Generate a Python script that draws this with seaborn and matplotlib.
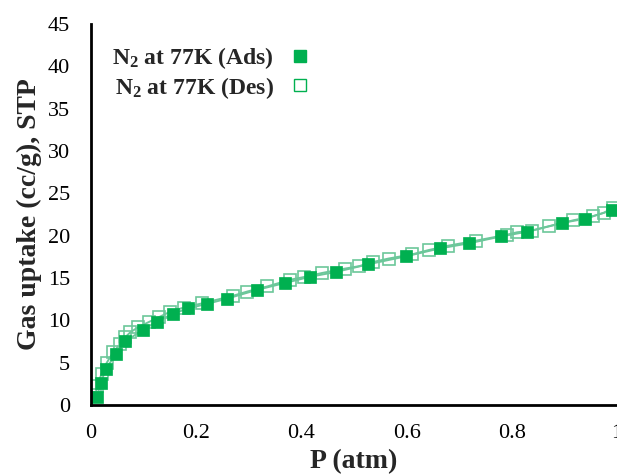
import numpy as np
import pandas as pd
import seaborn as sns
from matplotlib import pyplot as plt
from matplotlib.lines import Line2D

# adsorption branch (P in atm, uptake in cc/g STP)
p_ads = [0.011, 0.019, 0.028, 0.048, 0.065, 0.098, 0.125, 0.155, 0.184, 0.221,
         0.258, 0.316, 0.368, 0.417, 0.465, 0.526, 0.598, 0.664, 0.719, 0.779,
         0.828, 0.895, 0.94, 0.99]
v_ads = [0.98, 2.6, 4.3, 6.0, 7.5, 8.85, 9.85, 10.75, 11.4, 11.95,
         12.55, 13.6, 14.4, 15.15, 15.7, 16.6, 17.55, 18.5, 19.1, 19.9,
         20.45, 21.5, 22.0, 23.0]

# desorption branch
p_des = [0.992, 0.975, 0.954, 0.916, 0.871, 0.839, 0.81, 0.79, 0.731, 0.678,
         0.642, 0.611, 0.566, 0.537, 0.51, 0.482, 0.44, 0.404, 0.379, 0.335,
         0.297, 0.27, 0.211, 0.176, 0.15, 0.13, 0.11, 0.09, 0.075, 0.065,
         0.055, 0.042, 0.03, 0.02, 0.012, 0.008]
v_des = [23.3, 22.7, 22.3, 21.8, 21.1, 20.6, 20.4, 20.1, 19.4, 18.8,
         18.3, 17.8, 17.3, 16.9, 16.4, 16.1, 15.6, 15.1, 14.8, 14.0,
         13.4, 12.9, 12.0, 11.5, 11.0, 10.4, 9.8, 9.2, 8.6, 8.0,
         7.2, 6.2, 5.0, 3.7, 2.2, 1.2]

ads = pd.DataFrame({"P": p_ads, "V": v_ads})
des = pd.DataFrame({"P": p_des, "V": v_des})

sns.set_style("white")
plt.rcParams["font.family"] = ["Liberation Serif", "DejaVu Serif"]
plt.rcParams["mathtext.fontset"] = "custom"
plt.rcParams["mathtext.rm"] = "Liberation Serif:bold"
plt.rcParams["mathtext.it"] = "Liberation Serif:bold"
plt.rcParams["mathtext.bf"] = "Liberation Serif:bold"

green = "#00B050"
line_green = "#6CC79A"

fig = plt.figure(figsize=(6.17, 4.74), dpi=100)
ax = fig.add_axes([0.1475, 0.1456, 0.8525, 0.8038])

sns.lineplot(data=ads, x="P", y="V", sort=False, color=line_green, lw=1.4, ax=ax)
sns.lineplot(data=des, x="P", y="V", sort=False, color=line_green, lw=1.4, ax=ax)
ax.plot(des.P, des.V, ls="none", marker="s", ms=8, mfc="none", mec=line_green, mew=1.2)
ax.plot(ads.P, ads.V, ls="none", marker="s", ms=8.5, mfc=green, mec=green, mew=0.5)

ax.set_xlim(0, 1)
ax.set_ylim(0, 45)
ax.set_xticks([0, 0.2, 0.4, 0.6, 0.8, 1.0])
ax.set_xticklabels(["0", "0.2", "0.4", "0.6", "0.8", "1"])
ax.set_yticks(range(0, 46, 5))

for s in ["top", "right"]:
    ax.spines[s].set_visible(False)
for s in ["left", "bottom"]:
    ax.spines[s].set_color("black")
    ax.spines[s].set_linewidth(2)
ax.tick_params(axis="both", direction="out", length=6, width=1.5, colors="black",
               labelsize=16)
ax.tick_params(axis="x", pad=8)
ax.tick_params(axis="y", pad=9)

ax.set_xlabel("P (atm)", fontsize=20, fontweight="bold", labelpad=4)
ax.set_ylabel("Gas uptake (cc/g), STP", fontsize=20, fontweight="bold", labelpad=4)

handles = [
    Line2D([], [], ls="none", marker="s", ms=8, mfc=green, mec=green),
    Line2D([], [], ls="none", marker="s", ms=8, mfc="none", mec=green, mew=1.0),
]
labels = [r"N$_2$ at 77K (Ads)", r"N$_2$ at 77K (Des)"]
leg = ax.legend(handles, labels, loc="upper left", bbox_to_anchor=(0.0, 1.0),
                frameon=False, markerfirst=False, handlelength=1.0,
                handletextpad=0.6, labelspacing=0.15,
                prop={"size": 17, "weight": "bold"})

fig.savefig("out.png", dpi=100)
